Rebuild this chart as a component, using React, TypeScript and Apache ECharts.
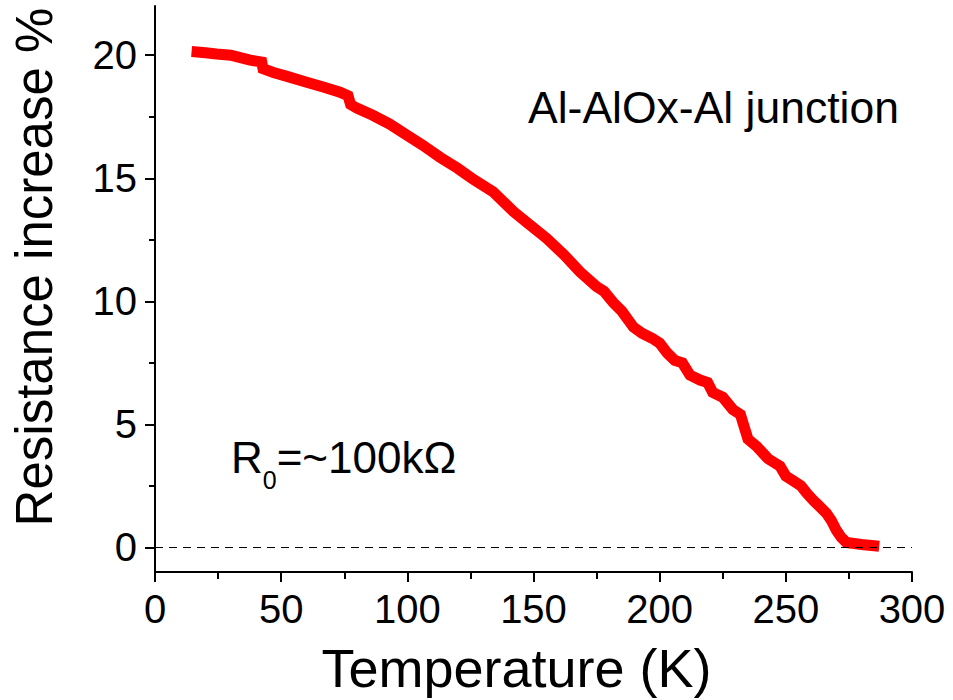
import React, { useEffect, useRef } from "react";
import * as echarts from "echarts";

// Temperature (K)
const temperature = [
  14.5, 20, 24.4, 30, 37.7, 42.3, 42.8, 46.9, 52, 60.1, 67, 73.3, 76.5, 77.5, 80, 86.5, 93, 99.8,
  106, 113, 120, 126.2, 134, 142, 148, 155.3, 162, 168.4, 175, 178, 181.6, 185, 189.6, 193, 197,
  200, 203, 206, 209, 212, 216, 219, 221, 225, 229, 232, 233.5, 235, 238.5, 243, 247.7, 250, 253,
  256, 258.3, 261, 263, 266, 268, 270, 272, 274, 280, 287,
];
// Resistance increase (%)
const resistance = [
  20.15, 20.1, 20.05, 20.0, 19.8, 19.72, 19.45, 19.3, 19.15, 18.9, 18.7, 18.5, 18.35, 18.0, 17.85,
  17.55, 17.2, 16.75, 16.35, 15.85, 15.4, 14.95, 14.45, 13.65, 13.15, 12.55, 11.9, 11.2, 10.6, 10.4,
  9.95, 9.6, 8.95, 8.7, 8.5, 8.3, 7.9, 7.6, 7.5, 7.0, 6.8, 6.7, 6.3, 6.1, 5.6, 5.4, 4.9, 4.4, 4.1,
  3.6, 3.3, 2.9, 2.7, 2.5, 2.2, 1.9, 1.7, 1.4, 1.1, 0.7, 0.4, 0.2, 0.12, 0.05,
];
const xTickInterval = 50;
const yTicks = [0, 5, 10, 15, 20];
const yMinorTicks = [2.5, 7.5, 12.5, 17.5];
const referenceLevel = 0;

const FONT = "'Liberation Sans', Arial, sans-serif";

export default function App() {
  const ref = useRef<HTMLDivElement>(null);
  useEffect(() => {
    document.body.style.margin = "0";
    if (!ref.current) return;
    const chart = echarts.init(ref.current, undefined, { renderer: "svg" });
    const data = temperature.map((t, i) => [t, resistance[i]]);
    const axisColor = "#000";
    chart.setOption({
      animation: false,
      backgroundColor: "#fff",
      grid: { left: 155, right: 41, top: 6, bottom: 128 },
      xAxis: {
        type: "value",
        min: 0,
        max: 300,
        interval: xTickInterval,
        name: "Temperature (K)",
        nameLocation: "middle",
        nameGap: 69,
        nameTextStyle: { fontSize: 54, color: "#000", fontFamily: FONT, padding: [0, 34, 0, 0] },
        axisLine: { show: true, onZero: false, lineStyle: { color: axisColor, width: 2 } },
        axisTick: { show: true, inside: false, length: 10, lineStyle: { color: axisColor, width: 2 } },
        minorTick: { show: true, splitNumber: 2, length: 7, lineStyle: { color: axisColor, width: 2 } },
        axisLabel: { fontSize: 40, color: "#000", margin: 17, fontFamily: FONT },
        splitLine: { show: false },
        minorSplitLine: { show: false },
      },
      yAxis: [
        {
          type: "value",
          min: -1,
          max: 22,
          position: "left",
          name: "Resistance increase %",
          nameLocation: "middle",
          nameGap: 95,
          nameRotate: 90,
          nameTextStyle: { fontSize: 51, color: "#000", fontFamily: FONT, padding: [0, 0, 0, 44] },
          axisLine: { show: true, onZero: false, lineStyle: { color: axisColor, width: 2 } },
          axisTick: {
            show: true,
            inside: false,
            length: 10,
            customValues: yTicks,
            lineStyle: { color: axisColor, width: 2 },
          },
          axisLabel: { fontSize: 40, color: "#000", margin: 18, fontFamily: FONT, customValues: yTicks },
          splitLine: { show: false },
        },
        {
          type: "value",
          min: -1,
          max: 22,
          position: "left",
          axisLine: { show: false },
          axisTick: {
            show: true,
            inside: false,
            length: 6,
            customValues: yMinorTicks,
            lineStyle: { color: axisColor, width: 2 },
          },
          axisLabel: { show: false },
          splitLine: { show: false },
        },
      ],
      series: [
        {
          type: "line",
          data,
          yAxisIndex: 0,
          symbol: "none",
          showSymbol: false,
          lineStyle: { color: "#ff0000", width: 11, cap: "butt", join: "miter" },
          markLine: {
            silent: true,
            symbol: "none",
            label: { show: false },
            lineStyle: { color: "#000", width: 1, type: [8, 6] },
            data: [{ yAxis: referenceLevel }],
          },
          z: 3,
        },
      ],
      graphic: [
        {
          type: "text",
          x: 528,
          y: 107,
          style: {
            text: "Al-AlOx-Al junction",
            fontSize: 44.5,
            fontFamily: FONT,
            fill: "#000",
            align: "left",
            verticalAlign: "middle",
          },
        },
        {
          type: "text",
          x: 231,
          y: 457,
          style: {
            text: "{r|R}{s|0}{r|=~100kΩ}",
            align: "left",
            verticalAlign: "middle",
            fill: "#000",
            rich: {
              r: { fontSize: 44, lineHeight: 70, fontFamily: FONT, fill: "#000", verticalAlign: "middle" },
              s: { fontSize: 25, lineHeight: 25, fontFamily: FONT, fill: "#000", verticalAlign: "bottom" },
            },
          },
        },
      ],
    });
    return () => chart.dispose();
  }, []);
  return <div ref={ref} style={{ width: 953, height: 700 }} />;
}
